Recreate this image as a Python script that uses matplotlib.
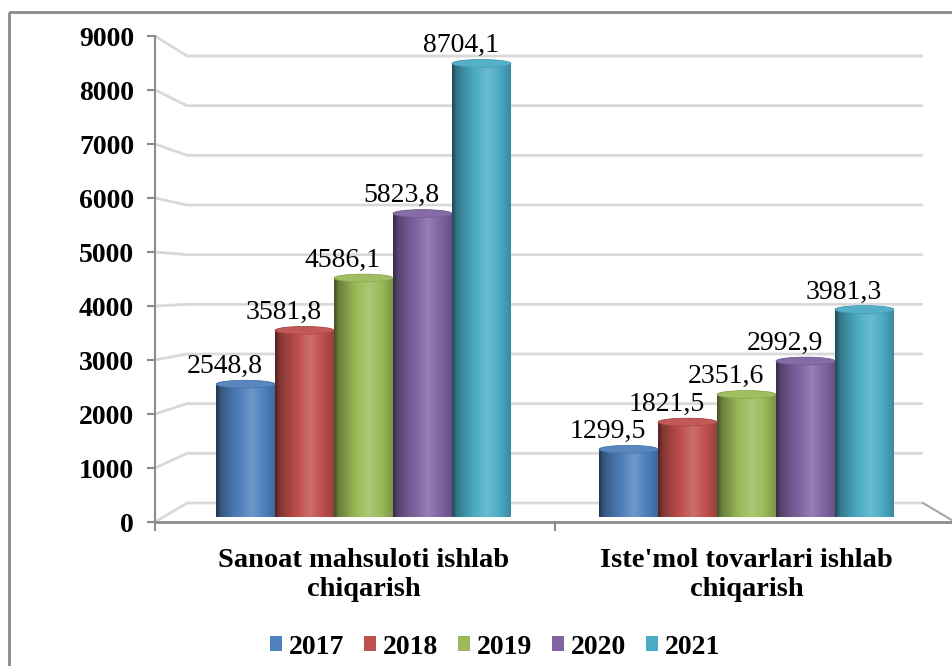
import numpy as np
import matplotlib
matplotlib.use("Agg")
import matplotlib.pyplot as plt
from matplotlib.path import Path
from matplotlib.patches import PathPatch, Ellipse, Rectangle, Patch

plt.rcParams['font.family'] = ['Liberation Serif', 'DejaVu Serif']

categories = ["Sanoat mahsuloti ishlab\nchiqarish", "Iste'mol tovarlari ishlab\nchiqarish"]
years = ["2017", "2018", "2019", "2020", "2021"]
values = {
    "2017": [2548.8, 1299.5],
    "2018": [3581.8, 1821.5],
    "2019": [4586.1, 2351.6],
    "2020": [5823.8, 2992.9],
    "2021": [8704.1, 3981.3],
}
colors = ["#4F81BD", "#C0504D", "#9BBB59", "#8064A2", "#4BACC6"]
yticks = list(range(0, 9001, 1000))

W, H = 952, 666
fig = plt.figure(figsize=(W / 100, H / 100), dpi=100)

def fx(px):
    return px / W

def fy(py):
    return 1 - py / H

# background layer in pixel units: frame, back wall grid, floor
bg = fig.add_axes([0, 0, 1, 1], zorder=0)
bg.set_xlim(0, W)
bg.set_ylim(H, 0)
bg.axis("off")
bg.add_patch(Rectangle((9, 12), 1200, 1200, fill=False, edgecolor="#8a8a8a", lw=2))

ax_left, floor_front, floor_back, wall_left, wall_right, ax_right = 155, 522, 503, 187, 923, 955
front_top, back_top = 36, 56
for v in yticks:
    yf = floor_front - v * (floor_front - front_top) / 9000
    yb = floor_back - v * (floor_back - back_top) / 9000
    bg.plot([ax_left, wall_left, wall_right], [yf, yb, yb], color="#d9d9d9", lw=2, solid_capstyle="butt")
bg.plot([wall_right, ax_right], [floor_back, floor_front], color="#a6a6a6", lw=1.5)
bg.plot([ax_left, ax_right], [floor_front, floor_front], color="#8c8c8c", lw=2)
for xt in [555, ax_right]:
    bg.plot([xt, xt], [floor_front, floor_front + 8], color="#8c8c8c", lw=1.5)
bg.plot([ax_left, ax_left], [floor_front, floor_front + 8], color="#8c8c8c", lw=1.5)

# value axis with tick labels
ay = fig.add_axes([fx(ax_left), fy(floor_front), 0.001, (floor_front - front_top) / H], zorder=1)
ay.set_ylim(0, 9000)
ay.set_yticks(yticks)
ay.set_yticklabels([str(t) for t in yticks], fontsize=20, fontweight="bold")
ay.set_xticks([])
for s in ["top", "right", "bottom"]:
    ay.spines[s].set_visible(False)
ay.spines["left"].set_color("#8c8c8c")
ay.spines["left"].set_linewidth(1.5)
ay.tick_params(axis="y", length=6, width=1.5, color="#8c8c8c", pad=9)
ay.patch.set_alpha(0)

# bar axes
bar_zero, bar_top = 517, 48
ax = fig.add_axes([fx(ax_left), fy(bar_zero), (ax_right - ax_left) / W, (bar_zero - bar_top) / H], zorder=2)
ax.patch.set_alpha(0)
for s in ax.spines.values():
    s.set_visible(False)

unit = 383.0
x = np.arange(len(categories))
width = 59 / unit
b = 75  # half height of cylinder ellipse, in value units

u_knots = [0.0, 0.08, 0.3, 0.6, 0.85, 1.0]
f_knots = [0.42, 0.68, 0.92, 1.18, 0.95, 0.8]
u = np.linspace(0, 1, 200)
prof = np.interp(u, u_knots, f_knots)

def shade(rgb, f):
    rgb = np.asarray(rgb)[None, :]
    f = np.asarray(f)[:, None]
    return np.where(f < 1, rgb * f, rgb + (1 - rgb) * (f - 1))

def cylinder(xc, h, color):
    x0, x1 = xc - width / 2, xc + width / 2
    t = np.linspace(0, np.pi, 60)
    bottom = np.column_stack([xc - width / 2 * np.cos(t), -b * np.sin(t)])
    top = np.column_stack([xc + width / 2 * np.cos(t), h + b * np.sin(t)])
    verts = np.vstack([bottom, top, bottom[:1]])
    codes = [Path.MOVETO] + [Path.LINETO] * (len(verts) - 2) + [Path.CLOSEPOLY]
    clip = PathPatch(Path(verts, codes), transform=ax.transData)
    base = np.array(matplotlib.colors.to_rgb(color))
    grad = shade(base, prof)[None, :, :]
    im = ax.imshow(grad, extent=[x0, x1, -b, h + b], aspect="auto", interpolation="bilinear", zorder=2)
    im.set_clip_path(clip)
    topc = shade(base, [1.05])[0]
    ax.add_patch(Ellipse((xc, h), width, 2 * b, facecolor=topc, edgecolor=shade(base, [0.9])[0], lw=0.5, zorder=3))

for i, (yr, c) in enumerate(zip(years, colors)):
    xs = x + (i - 2) * width
    for xc, v in zip(xs, values[yr]):
        cylinder(xc, v, c)
        ax.annotate(f"{v:.1f}".replace(".", ","), xy=(xc, v), xytext=(-15, 8),
                    textcoords="offset points", ha="center", va="baseline", fontsize=20, zorder=4)

ax.set_xlim(-(363.5 - ax_left) / unit, 1 + (ax_right - 746.5) / unit)
ax.set_ylim(0, 9000)
ax.set_yticks([])
ax.set_xticks(x)
ax.set_xticklabels(categories, fontsize=20.5, fontweight="bold", linespacing=1.25)
ax.tick_params(axis="x", length=0, pad=22)

handles = [Patch(facecolor=c, edgecolor="none") for c in colors]
fig.legend(handles, years, ncol=5, loc="center", bbox_to_anchor=(fx(495), fy(647)), frameon=False,
           handlelength=0.42, handleheight=0.42, handletextpad=0.25, columnspacing=0.72,
           prop={"size": 20, "weight": "bold"})

fig.savefig("out.png", dpi=100)
